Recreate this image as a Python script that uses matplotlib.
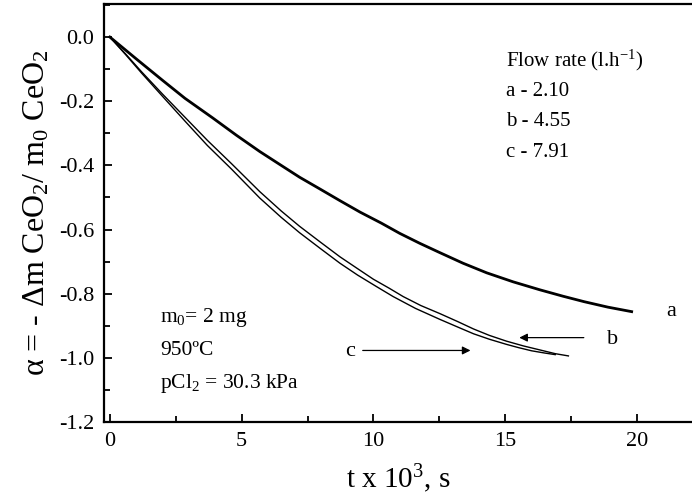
import matplotlib
matplotlib.use("Agg")
from matplotlib import pyplot as plt
from matplotlib.ticker import MultipleLocator
import numpy as np

plt.rcParams['font.family'] = ['Liberation Serif', 'DejaVu Serif']
plt.rcParams['mathtext.fontset'] = 'custom'
plt.rcParams['mathtext.rm'] = 'Liberation Serif'
plt.rcParams['mathtext.it'] = 'Liberation Serif:italic'
plt.rcParams['mathtext.default'] = 'regular'

# data (t in 10^3 s, alpha)
t_a = [0, 1.0, 2.0, 2.85, 3.9, 4.8, 5.69, 6.5, 7.2, 8.0, 8.73, 9.5, 10.3, 11.0,
       11.76, 12.52, 13.4, 14.3, 15.3, 16.32, 17.2, 18.0, 18.9, 19.8]
alpha_a = [0, -0.068, -0.135, -0.191, -0.252, -0.306, -0.357, -0.40, -0.437, -0.475,
           -0.51, -0.546, -0.58, -0.612, -0.643, -0.672, -0.705, -0.735, -0.763,
           -0.788, -0.808, -0.825, -0.842, -0.856]

t_b = [0, 0.6, 1.2, 2.0, 2.85, 3.7, 4.62, 5.69, 6.5, 7.2, 8.0, 8.73, 9.4, 10.0,
       10.6, 11.13, 11.8, 12.52, 13.2, 13.8, 14.4, 15.05, 15.7, 16.3, 16.9, 17.4]
alpha_b = [0, -0.053, -0.108, -0.178, -0.25, -0.322, -0.395, -0.482, -0.542, -0.59,
           -0.64, -0.685, -0.722, -0.755, -0.783, -0.809, -0.837, -0.862, -0.887,
           -0.91, -0.93, -0.948, -0.963, -0.975, -0.987, -0.994]

t_c = [0, 0.6, 1.2, 2.0, 2.85, 3.7, 4.62, 5.69, 6.5, 7.2, 8.0, 8.73, 9.4, 10.1,
       10.75, 11.6, 12.52, 13.2, 13.8, 14.4, 15.05, 15.5, 16.0, 16.5, 16.9]
alpha_c = [0, -0.055, -0.112, -0.185, -0.262, -0.338, -0.412, -0.502, -0.562, -0.61,
           -0.66, -0.705, -0.742, -0.777, -0.809, -0.846, -0.88, -0.904, -0.925,
           -0.942, -0.958, -0.968, -0.978, -0.985, -0.99]

flow_lines = ["Flow rate (l.h$^{-1}$)", "a - 2.10", "b - 4.55", "c - 7.91"]
cond_lines = ["m$_0$= 2 mg", "950ºC", "pCl$_2$ = 30.3 kPa"]

fig = plt.figure(figsize=(6.92, 5.0), dpi=100)
ax = fig.add_axes([0.150, 0.156, 0.850, 0.836])

ax.plot(t_a, alpha_a, color='black', linewidth=2.0)
ax.plot(t_b, alpha_b, color='black', linewidth=1.0)
ax.plot(t_c, alpha_c, color='black', linewidth=1.0)

ax.set_xlim(-0.23, 22.09)
ax.set_ylim(-1.2, 0.103)
ax.xaxis.set_major_locator(MultipleLocator(5))
ax.xaxis.set_minor_locator(MultipleLocator(2.5))
ax.yaxis.set_major_locator(MultipleLocator(0.2))
ax.yaxis.set_minor_locator(MultipleLocator(0.1))
ax.yaxis.set_major_formatter(matplotlib.ticker.FormatStrFormatter('%.1f'))
ax.tick_params(which='both', direction='in', top=False, right=False, labelsize=16, width=1.3)
ax.tick_params(which='major', length=6, pad=7)
ax.tick_params(which='minor', length=4)
ax.spines['right'].set_visible(False)
for s in ['left', 'bottom', 'top']:
    ax.spines[s].set_linewidth(1.6)

ax.set_xlabel("t x 10$^3$, s", fontsize=21, labelpad=8)
ax.set_ylabel(r"$\alpha$ = - $\Delta$m CeO$_2$/ m$_0$ CeO$_2$", fontsize=23, labelpad=5)

for i, line in enumerate(flow_lines):
    ax.text(15.03, -0.074 - 0.095 * i, line, fontsize=15, ha='left', va='center')
for i, line in enumerate(cond_lines):
    ax.text(1.90, -0.875 - 0.102 * i, line, fontsize=15.5, ha='left', va='center')

ax.text(21.1, -0.856, "a", fontsize=16, ha='left', va='center')
ax.text(18.85, -0.944, "b", fontsize=16, ha='left', va='center')
ax.text(8.92, -0.98, "c", fontsize=16, ha='left', va='center')
arrow = dict(arrowstyle='-|>', color='black', linewidth=0.9, mutation_scale=12)
ax.annotate("", xy=(15.43, -0.937), xytext=(18.09, -0.937), arrowprops=arrow)
ax.annotate("", xy=(13.79, -0.977), xytext=(9.49, -0.977), arrowprops=arrow)

plt.savefig("out.png", dpi=100)
plt.close()
